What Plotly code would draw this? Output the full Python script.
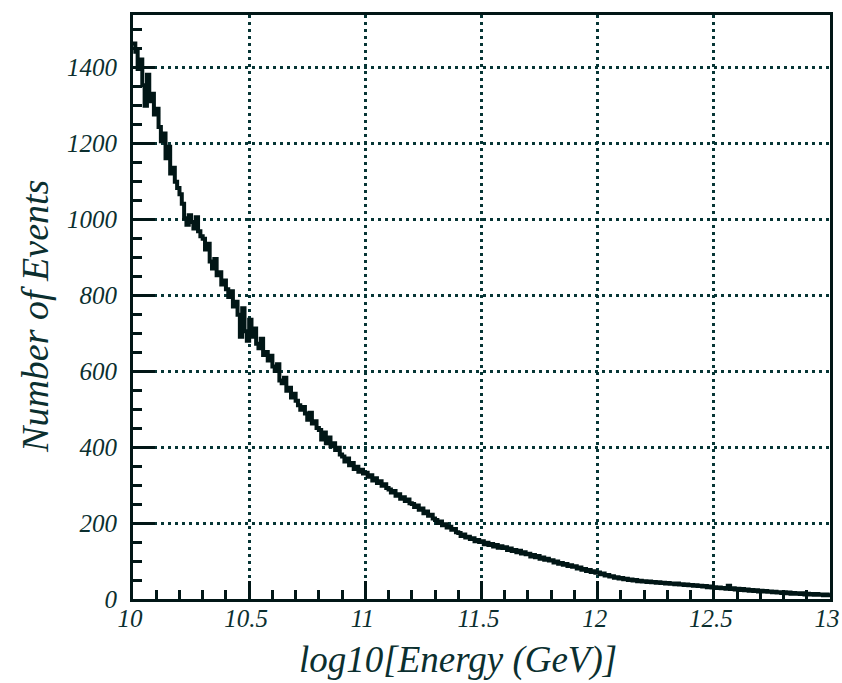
import numpy as np
import plotly.graph_objects as go

# Histogram: log10(E/GeV) from 10 to 13, bins of 0.01
bin_low = 10.0
bin_width = 0.01
counts = [
    1462, 1440, 1395, 1420, 1352, 1298, 1380, 1310, 1330, 1275,
    1290, 1242, 1205, 1225, 1160, 1190, 1120, 1135, 1098, 1082,
    1065, 1040, 1002, 985, 1010, 992, 975, 1005, 968, 955,
    948, 920, 935, 888, 870, 895, 852, 860, 828, 838,
    815, 795, 810, 770, 782, 748, 690, 765, 705, 680,
    735, 690, 712, 672, 660, 685, 642, 650, 628, 640,
    612, 600, 618, 575, 568, 582, 548, 556, 530, 540,
    522, 510, 498, 505, 488, 472, 490, 462, 468, 450,
    445, 420, 438, 410, 425, 402, 410, 392, 398, 380,
    375, 362, 370, 352, 358, 342, 348, 335, 340, 330,
    332, 322, 326, 312, 318, 305, 310, 298, 302, 292,
    288, 280, 284, 272, 276, 264, 268, 258, 262, 252,
    250, 242, 246, 235, 238, 226, 230, 219, 222, 212,
    208, 200, 204, 194, 197, 188, 190, 182, 184, 176,
    174, 166, 170, 162, 164, 158, 160, 152, 155, 150,
    152, 144, 148, 142, 145, 138, 142, 135, 139, 134,
    136, 129, 133, 126, 129, 123, 127, 120, 123, 118,
    119, 112, 116, 110, 113, 106, 109, 103, 106, 101,
    102, 96, 99, 93, 95, 90, 92, 87, 89, 85,
    86, 80, 83, 77, 79, 74, 76, 71, 73, 69,
    70, 65, 67, 62, 63, 59, 60, 56, 57, 54,
    55, 52, 53, 50, 51, 49, 50, 47, 48, 46,
    47, 45, 46, 44, 45, 43, 44, 42, 43, 41,
    42, 40, 41, 39, 41, 38, 39, 37, 38, 36,
    37, 35, 36, 34, 35, 33, 34, 31, 33, 30,
    31, 29, 30, 28, 29, 27, 35, 26, 28, 25,
    27, 24, 26, 23, 25, 22, 24, 21, 23, 20,
    22, 20, 21, 19, 20, 18, 19, 17, 18, 16,
    18, 15, 17, 14, 16, 14, 15, 13, 15, 12,
    14, 12, 13, 11, 13, 11, 12, 10, 12, 10,
]
x_ticks = [10, 10.5, 11, 11.5, 12, 12.5, 13]
x_tick_text = ["10", "10.5", "11", "11.5", "12", "12.5", "13"]
y_ticks = [0, 200, 400, 600, 800, 1000, 1200, 1400]
x_title = "log10[Energy (GeV)]"
y_title = "Number of Events"

edges = bin_low + bin_width * np.arange(len(counts) + 1)
y_step = list(counts) + [counts[-1]]

INK = "#011616"
TXT = "#0b2f2f"
FONT = "Liberation Serif"

fig = go.Figure()
fig.add_trace(go.Scatter(
    x=edges, y=y_step, mode="lines", line_shape="hv",
    line=dict(color=INK, width=4), showlegend=False, hoverinfo="skip",
))

axis_common = dict(
    showline=True, linecolor=INK, linewidth=3, mirror=True,
    ticks="inside", tickcolor=INK, tickwidth=3,
    showgrid=True, gridcolor="#063535", gridwidth=3, griddash="3px,4px",
    zeroline=False, automargin=False, ticklabeloverflow="allow",
    tickfont=dict(family=FONT, size=25, color=TXT, style="italic"),
)

fig.update_xaxes(
    range=[10, 13], tickvals=x_ticks, ticktext=x_tick_text, ticklen=18,
    minor=dict(dtick=0.1, ticklen=9, tickcolor=INK, tickwidth=3, ticks="inside", showgrid=False),
    ticklabelstandoff=-5, ticklabelshift=-3,
    **axis_common,
)
fig.update_yaxes(
    range=[0, 1537], tickvals=y_ticks, ticklen=22,
    minor=dict(dtick=50, ticklen=9, tickcolor=INK, tickwidth=3, ticks="inside", showgrid=False),
    ticklabelstandoff=8,
    **axis_common,
)

fig.add_annotation(
    text=x_title, xref="paper", yref="paper", x=0.466, y=-0.105,
    xanchor="center", yanchor="middle", showarrow=False,
    font=dict(family=FONT, size=37, color=TXT, style="italic"),
)
fig.add_annotation(
    text=y_title, xref="paper", yref="paper", x=-0.1406, y=0.483,
    xanchor="center", yanchor="middle", showarrow=False, textangle=-90,
    font=dict(family=FONT, size=38, color=TXT, style="italic"),
)

fig.update_layout(
    width=842, height=683,
    margin=dict(l=133, r=12, t=15, b=84),
    paper_bgcolor="white", plot_bgcolor="white",
)

fig.write_html(
    "out.html",
    config={"displayModeBar": False},
    post_script="document.body.style.margin='0';document.body.style.overflow='hidden';",
)
